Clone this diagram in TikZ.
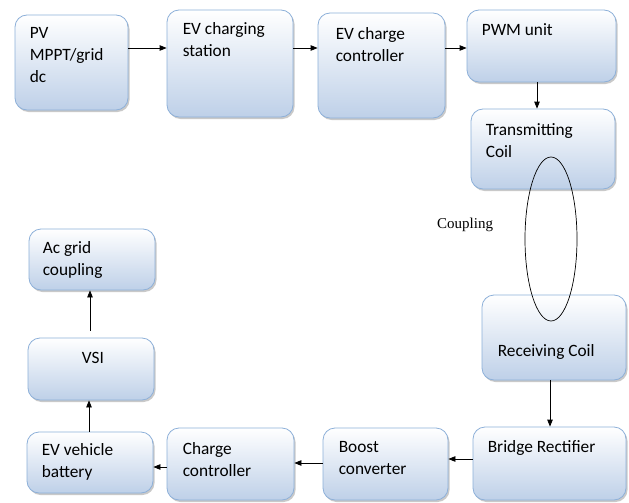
\documentclass[tikz,border=0pt]{standalone}
\usepackage{fontspec}
\setmainfont{Carlito}
\newfontfamily\serifc{Liberation Serif}
\usetikzlibrary{shapes.geometric,shadows,arrows.meta,calc,fit}
\definecolor{bxborder}{RGB}{141,176,217}
\definecolor{bxbottom}{RGB}{190,208,232}
\tikzset{
  blk/.style={draw=bxborder, line width=0.8pt, rounded corners=12pt, top color=white, bottom color=bxbottom, inner sep=0pt,
    drop shadow={shadow xshift=1.5pt, shadow yshift=-2pt, opacity=0.35, fill=black!60}},
  txt/.style={font=\fontsize{17.3}{22}\selectfont, align=left, inner sep=0pt, anchor=base west},
  arr/.style={-{Triangle[length=7pt,width=5.5pt]}, line width=0.8pt}
}
\begin{document}
\begin{tikzpicture}[x=1pt,y=-1pt]
\useasboundingbox[fill=white] (0,0) rectangle (629,503);
% boxes
\node[blk, fit={(15,15) (128,110)}] (pv) {};
\node[blk, fit={(167,10) (293,117)}] (ecs) {};
\node[blk, fit={(318,13) (445,118)}] (ecc) {};
\node[blk, fit={(467,10) (616,82)}] (pwm) {};
\node[blk, fit={(471,109) (615,189)}] (tx) {};
\node[blk, fit={(482,295) (626,380)}] (rx) {};
\node[blk, fit={(473,427) (626,500)}] (br) {};
\node[blk, fit={(323,428) (448,500)}] (bc) {};
\node[blk, fit={(167,428) (294,500)}] (cc) {};
\node[blk, fit={(27,432) (153,493)}] (bat) {};
\node[blk, fit={(28,338) (154,400)}] (vsi) {};
\node[blk, fit={(29,229) (155,290)}] (ac) {};
% texts (base anchor = baseline of the last line)
\node[txt] (pvT) at ($(pv.north west)+(15,24+44)$) {PV\\MPPT/grid\\dc};
\node[txt] (ecsT) at ($(ecs.north west)+(16,25+22)$) {EV charging\\station};
\node[txt] (eccT) at ($(ecc.north west)+(18,27+22)$) {EV charge\\controller};
\node[txt] (pwmT) at ($(pwm.north west)+(15,26)$) {PWM unit};
\node[txt] (txT) at ($(tx.north west)+(15,27+22)$) {Transmitting\\Coil};
\node[txt] (rxT) at ($(rx.north west)+(16,62)$) {Receiving Coil};
\node[txt] (brT) at ($(br.north west)+(15,26)$) {Bridge Rectifier};
\node[txt] (bcT) at ($(bc.north west)+(16,25+22)$) {Boost\\converter};
\node[txt] (ccT) at ($(cc.north west)+(16,27+22)$) {Charge\\controller};
\node[txt] (batT) at ($(bat.north west)+(15,24+22)$) {EV vehicle\\battery};
\node[txt, anchor=base] (vsiT) at ($(vsi.north)+(2,26)$) {VSI};
\node[txt] (acT) at ($(ac.north west)+(14,25+22)$) {Ac grid\\coupling};
% coupling ellipse
\node[draw, ellipse, minimum width=52pt, minimum height=164pt, inner sep=0pt, line width=0.7pt] (coil) at (551,239) {};
\node[font=\serifc\fontsize{15}{17}\selectfont, anchor=west, inner sep=0pt] (cpl) at (437,225) {Coupling};
% arrows
\coordinate (rowtop) at (0,48);
\coordinate (cx1) at (537,0);
\coordinate (cx2) at (550,0);
\coordinate (ry1) at (0,459);
\coordinate (ry2) at (0,463);
\coordinate (ry3) at (0,467);
\coordinate (cx3) at (89,0);
\coordinate (cx4) at (90,0);
\draw[arr] (pv.east |- rowtop) -- (ecs.west |- rowtop);
\draw[arr] (ecs.east |- rowtop) -- (ecc.west |- rowtop);
\draw[arr] (ecc.east |- rowtop) -- (pwm.west |- rowtop);
\draw[arr] (pwm.south -| cx1) -- (tx.north -| cx1);
\draw[arr] (rx.south -| cx2) -- (br.north -| cx2);
\draw[arr] (br.west |- ry1) -- (bc.east |- ry1);
\draw[arr] (bc.west |- ry2) -- (cc.east |- ry2);
\draw[arr] (cc.west |- ry3) -- (bat.east |- ry3);
\draw[arr] (bat.north -| cx3) -- (vsi.south -| cx3);
\draw[arr] ($(vsi.north -| cx4)+(0,-7)$) -- (ac.south -| cx4);
\end{tikzpicture}
\end{document}
